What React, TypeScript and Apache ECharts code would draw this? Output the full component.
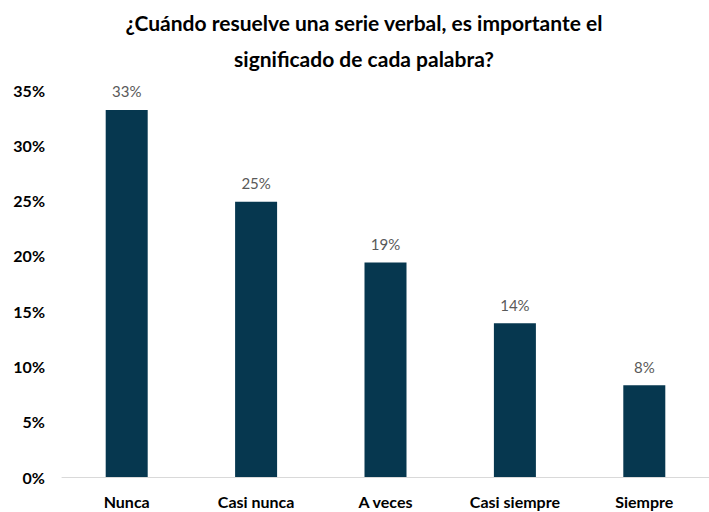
import React, { useEffect, useRef } from "react";
import * as echarts from "echarts";

const categories = ["Nunca", "Casi nunca", "A veces", "Casi siempre", "Siempre"];
const values = [33.2, 24.9, 19.4, 13.9, 8.3];
const yTicks = [0, 5, 10, 15, 20, 25, 30, 35];
const titleText = "¿Cuándo resuelve una serie verbal, es importante el\nsignificado de cada palabra?";

export default function App() {
  const ref = useRef<HTMLDivElement>(null);
  useEffect(() => {
    if (!ref.current) return;
    const chart = echarts.init(ref.current, null, { renderer: "svg" });
    chart.setOption({
      animation: false,
      backgroundColor: "#ffffff",
      title: {
        text: titleText,
        left: 359,
        textAlign: "center",
        top: -1,
        textStyle: {
          fontFamily: "Lato",
          fontWeight: "bold",
          fontSize: 21,
          lineHeight: 36,
          color: "#000000",
        },
      },
      grid: { left: 62, width: 654, top: 90, bottom: 35 },
      xAxis: {
        type: "category",
        data: categories,
        axisLine: { show: true, lineStyle: { color: "#d9d9d9", width: 1 } },
        axisTick: { show: false },
        axisLabel: {
          fontFamily: "Lato",
          fontWeight: "bold",
          fontSize: 16,
          color: "#000000",
          margin: 16,
        },
      },
      yAxis: {
        type: "value",
        min: yTicks[0],
        max: yTicks[yTicks.length - 1],
        interval: 5,
        splitLine: { show: false },
        axisLine: { show: false },
        axisTick: { show: false },
        axisLabel: {
          fontFamily: "Lato",
          fontWeight: "bold",
          fontSize: 16,
          color: "#000000",
          margin: 17,
          formatter: (v: number) => v + "%",
        },
      },
      series: [
        {
          type: "bar",
          data: values,
          barWidth: 42,
          itemStyle: { color: "#06374f" },
          label: {
            show: true,
            position: "top",
            distance: 11,
            fontFamily: "Lato",
            fontSize: 15,
            color: "#595959",
            formatter: (p: any) => Math.round(p.value) + "%",
          },
        },
      ],
    });
    return () => chart.dispose();
  }, []);
  return (
    <div
      ref={ref}
      style={{ position: "fixed", left: 0, top: 0, width: 709, height: 512 }}
    />
  );
}
